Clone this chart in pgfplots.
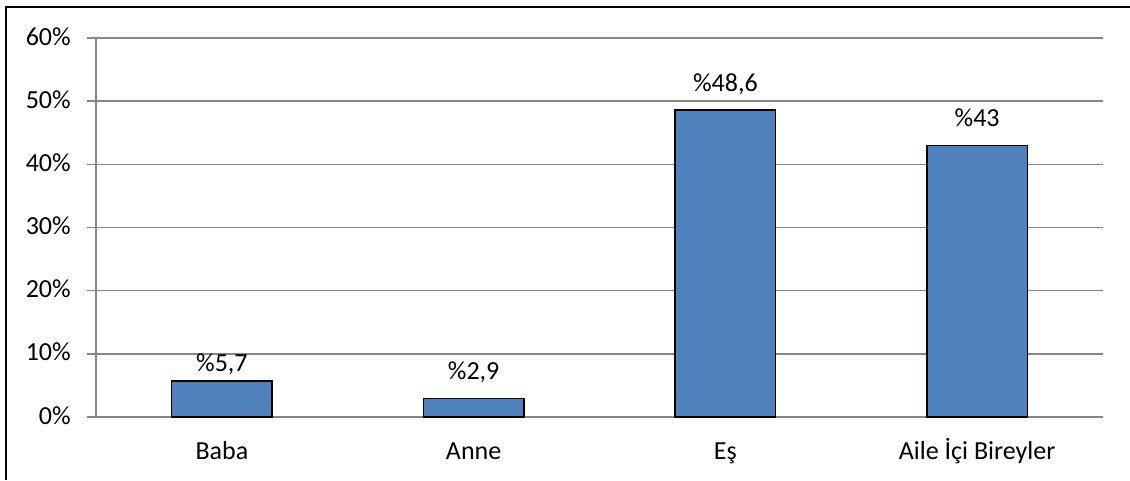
\documentclass[border=0pt]{standalone}
\usepackage{fontspec}
\setmainfont{Carlito}
\usepackage{pgfplots}
\pgfplotsset{compat=1.18}
\definecolor{barblue}{HTML}{4F81BD}
\definecolor{gridgray}{HTML}{868686}
\begin{document}
\fontsize{19.5pt}{23pt}\selectfont
\begin{tikzpicture}
  \begin{axis}[
    at={(0,0)}, anchor=south west,
    scale only axis, width=755.25pt, height=284.25pt,
    xmin=-0.5, xmax=3.5, ymin=0, ymax=60,
    axis x line=bottom, axis y line=left,
    axis line style={gridgray, line width=1.1pt, -},
    ybar, bar width=0.4, bar shift=0pt,
    xtick={0,1,2,3},
    xticklabels={Baba, Anne, Eş, Aile İçi Bireyler},
    ytick={0,10,...,60},
    /pgf/number format/assume math mode=true,
    yticklabel={\pgfmathprintnumber{\tick}\%},
    ymajorgrids,
    grid style={gridgray, line width=1.1pt},
    tick align=outside, major tick length=6.75pt,
    ytick style={draw=gridgray, line width=1.1pt},
    xtick style={draw=none},
    xticklabel style={anchor=base, inner sep=0pt, yshift=-24.75pt},
    yticklabel style={anchor=base east, inner sep=0pt, xshift=-12pt, yshift=-5.25pt},
    nodes near coords,
    point meta=explicit symbolic,
    every tick label/.append style={black},
  ]
    % Baba label sits closer to its bar
    \addplot[fill=barblue, draw=black, line width=1.1pt,
      nodes near coords style={anchor=base, inner sep=0pt, yshift=7.5pt, black}]
      coordinates {
      (0, 5.7) [\%5,7]
    };
    \addplot[fill=barblue, draw=black, line width=1.1pt,
      nodes near coords style={anchor=base, inner sep=0pt, yshift=14.25pt, black}]
      coordinates {
      (1, 2.9) [\%2,9]
      (2, 48.6) [\%48,6]
      (3, 43) [\%43]
    };
  \end{axis}
  \draw[line width=1.5pt] (-67.5pt,-47.25pt) -- (-67.5pt,307.5pt) -- (775.5pt,307.5pt);
  \pgfresetboundingbox
  \path[use as bounding box] (-72pt,-47.25pt) rectangle (775.5pt,312.75pt);
\end{tikzpicture}
\end{document}
